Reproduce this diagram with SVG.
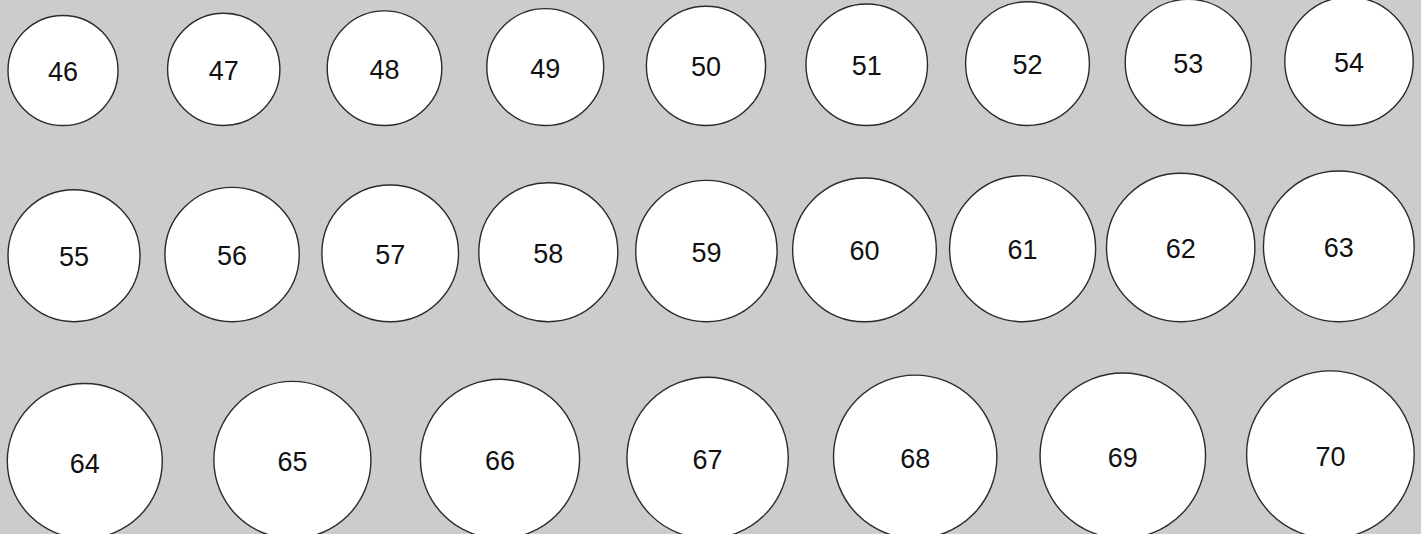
<svg xmlns="http://www.w3.org/2000/svg" width="1421" height="534" viewBox="0 0 1421 534">
<style>
.n circle{fill:#fff;stroke:#2b2b2b;stroke-width:1.4}
.n text{font-family:"Liberation Sans",Arial,sans-serif;font-size:27px;fill:#111;text-anchor:middle}
</style>
<rect width="1421" height="534" fill="#cccccc"/>
<g id="n46" class="n"><circle cx="63" cy="70.5" r="55"/><text x="63" y="81">46</text></g>
<g id="n47" class="n"><circle cx="223.75" cy="69.35" r="56.15"/><text x="223.75" y="79.85">47</text></g>
<g id="n48" class="n"><circle cx="384.5" cy="68.2" r="57.3"/><text x="384.5" y="78.7">48</text></g>
<g id="n49" class="n"><circle cx="545.25" cy="67.05" r="58.45"/><text x="545.25" y="77.55">49</text></g>
<g id="n50" class="n"><circle cx="706" cy="65.9" r="59.6"/><text x="706" y="76.4">50</text></g>
<g id="n51" class="n"><circle cx="866.75" cy="64.75" r="60.75"/><text x="866.75" y="75.25">51</text></g>
<g id="n52" class="n"><circle cx="1027.5" cy="63.6" r="61.9"/><text x="1027.5" y="74.1">52</text></g>
<g id="n53" class="n"><circle cx="1188.25" cy="62.45" r="63.05"/><text x="1188.25" y="72.95">53</text></g>
<g id="n54" class="n"><circle cx="1349" cy="61.3" r="64.2"/><text x="1349" y="71.8">54</text></g>
<g id="n55" class="n"><circle cx="74" cy="255.7" r="66"/><text x="74" y="266.2">55</text></g>
<g id="n56" class="n"><circle cx="232.1" cy="254.53" r="67.17"/><text x="232.1" y="265.03">56</text></g>
<g id="n57" class="n"><circle cx="390.2" cy="253.36" r="68.34"/><text x="390.2" y="263.86">57</text></g>
<g id="n58" class="n"><circle cx="548.3" cy="252.19" r="69.51"/><text x="548.3" y="262.69">58</text></g>
<g id="n59" class="n"><circle cx="706.4" cy="251.02" r="70.68"/><text x="706.4" y="261.52">59</text></g>
<g id="n60" class="n"><circle cx="864.5" cy="249.85" r="71.85"/><text x="864.5" y="260.35">60</text></g>
<g id="n61" class="n"><circle cx="1022.6" cy="248.68" r="73.02"/><text x="1022.6" y="259.18">61</text></g>
<g id="n62" class="n"><circle cx="1180.7" cy="247.51" r="74.19"/><text x="1180.7" y="258.01">62</text></g>
<g id="n63" class="n"><circle cx="1338.8" cy="246.34" r="75.36"/><text x="1338.8" y="256.84">63</text></g>
<g id="n64" class="n"><circle cx="84.8" cy="461" r="77.5"/><text x="84.8" y="472.5">64</text></g>
<g id="n65" class="n"><circle cx="292.4" cy="459.95" r="78.55"/><text x="292.4" y="471.45">65</text></g>
<g id="n66" class="n"><circle cx="500" cy="458.9" r="79.6"/><text x="500" y="470.4">66</text></g>
<g id="n67" class="n"><circle cx="707.6" cy="457.85" r="80.65"/><text x="707.6" y="469.35">67</text></g>
<g id="n68" class="n"><circle cx="915.2" cy="456.8" r="81.7"/><text x="915.2" y="468.3">68</text></g>
<g id="n69" class="n"><circle cx="1122.8" cy="455.75" r="82.75"/><text x="1122.8" y="467.25">69</text></g>
<g id="n70" class="n"><circle cx="1330.4" cy="454.7" r="83.8"/><text x="1330.4" y="466.2">70</text></g>
<g id="connectors"/>
</svg>
